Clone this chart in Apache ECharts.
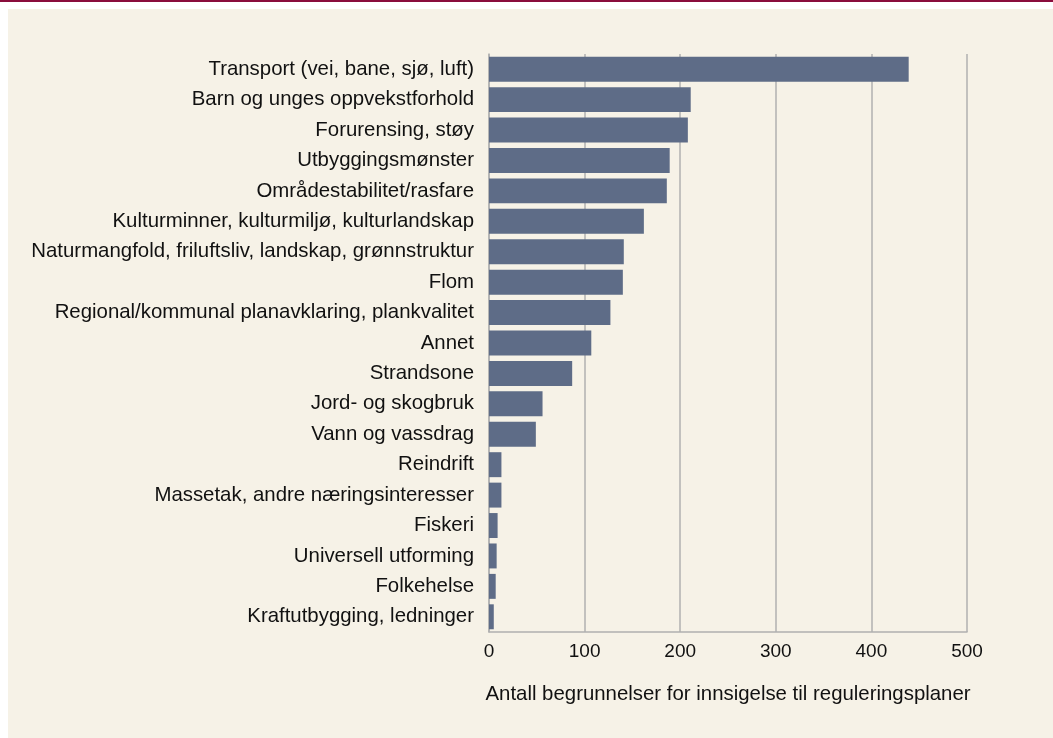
<!DOCTYPE html>
<html>
<head>
<meta charset="utf-8">
<script src="https://cdn.jsdelivr.net/npm/echarts@6/dist/echarts.min.js"></script>
<style>
  html, body { margin: 0; padding: 0; background: #ffffff; }
  #main { width: 1053px; height: 738px; }
</style>
</head>
<body>
<div id="main"></div>
<script>
// kategorier og verdier (lest av figuren)
var categories = [
  'Transport (vei, bane, sjø, luft)',
  'Barn og unges oppvekstforhold',
  'Forurensing, støy',
  'Utbyggingsmønster',
  'Områdestabilitet/rasfare',
  'Kulturminner, kulturmiljø, kulturlandskap',
  'Naturmangfold, friluftsliv, landskap, grønnstruktur',
  'Flom',
  'Regional/kommunal planavklaring, plankvalitet',
  'Annet',
  'Strandsone',
  'Jord- og skogbruk',
  'Vann og vassdrag',
  'Reindrift',
  'Massetak, andre næringsinteresser',
  'Fiskeri',
  'Universell utforming',
  'Folkehelse',
  'Kraftutbygging, ledninger'
];
var values = [439, 211, 208, 189, 186, 162, 141, 140, 127, 107, 87, 56, 49, 13, 13, 9, 8, 7, 5];
var xTicks = [0, 100, 200, 300, 400, 500];
var axisTitle = 'Antall begrunnelser for innsigelse til reguleringsplaner';

var myChart = echarts.init(document.getElementById('main'));

var option = {
  backgroundColor: '#ffffff',
  textStyle: { fontFamily: '"Liberation Sans", Arial, sans-serif' },
  animation: false,
  graphic: [
    { type: 'rect', left: 8, top: 9, shape: { width: 1045, height: 729 }, style: { fill: '#f6f2e7' }, z: -10 },
    { type: 'rect', left: 0, top: 0, shape: { width: 1053, height: 2 }, style: { fill: '#8a0d3c' }, z: -10 }
  ],
  grid: { left: 489, top: 54, width: 478, height: 578, containLabel: false },
  xAxis: {
    type: 'value',
    min: xTicks[0],
    max: xTicks[xTicks.length - 1],
    interval: 100,
    name: axisTitle,
    nameLocation: 'middle',
    nameGap: 52,
    nameTextStyle: { color: '#111111', fontSize: 20.4 },
    axisLine: { show: true, lineStyle: { color: '#b0b0b0', width: 1.5 } },
    axisTick: { show: false },
    axisLabel: { color: '#111111', fontSize: 19, margin: 10 },
    splitLine: { show: true, lineStyle: { color: '#b0b0b0', width: 1.5 } }
  },
  yAxis: {
    type: 'category',
    inverse: true,
    data: categories,
    axisLine: { show: true, lineStyle: { color: '#b0b0b0', width: 1.5 } },
    axisTick: { show: false },
    axisLabel: { color: '#111111', fontSize: 20.4, margin: 15 }
  },
  series: [{
    type: 'bar',
    data: values,
    barCategoryGap: '18%',
    itemStyle: { color: '#5e6c87' }
  }]
};

myChart.setOption(option);
</script>
</body>
</html>
